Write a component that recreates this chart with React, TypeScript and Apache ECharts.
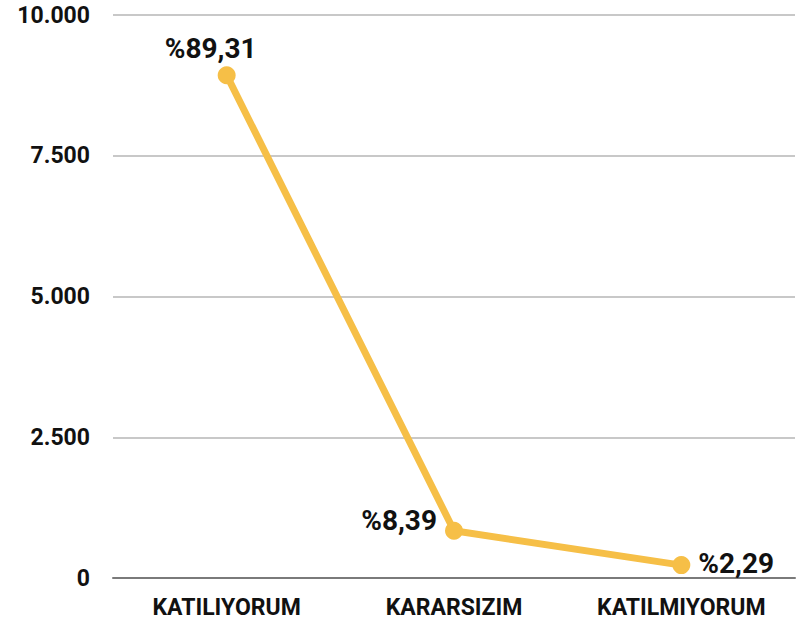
import React, { useEffect, useRef } from "react";
import * as echarts from "echarts";

const categories = ["KATILIYORUM", "KARARSIZIM", "KATILMIYORUM"];
const values = [8931, 839, 229];
const pctLabels = ["%89,31", "%8,39", "%2,29"];
const labelPositions = ["top", "left", "right"];
const labelOffsets = [[-16, 4], [0, -10], [0, -2]];

export default function App() {
  const ref = useRef<HTMLDivElement>(null);
  useEffect(() => {
    const chart = echarts.init(ref.current!, null, { renderer: "svg" });
    const font = "Roboto";
    chart.setOption({
      animation: false,
      grid: { left: 113, right: 7, top: 15, bottom: 51 },
      xAxis: {
        type: "category",
        data: categories,
        boundaryGap: true,
        axisTick: { show: false },
        axisLine: { lineStyle: { color: "#7a7a7a", width: 2 } },
        axisLabel: {
          interval: 0,
          hideOverlap: false,
          color: "#111",
          fontFamily: font,
          fontWeight: "bold",
          fontSize: 23,
          margin: 18,
        },
      },
      yAxis: {
        type: "value",
        min: 0,
        max: 10000,
        interval: 2500,
        axisLabel: {
          color: "#111",
          fontFamily: font,
          fontWeight: "bold",
          fontSize: 23,
          margin: 23,
          overflow: "none",
          formatter: (v: number) => v.toLocaleString("de-DE"),
        },
        splitLine: { lineStyle: { color: "#c8c8c8", width: 2 } },
      },
      series: [
        {
          type: "line",
          data: values.map((v, i) => ({
            value: v,
            label: {
              position: labelPositions[i],
              formatter: pctLabels[i],
              offset: labelOffsets[i],
            },
          })),
          symbol: "circle",
          symbolSize: 18,
          lineStyle: { color: "#F6BF47", width: 7 },
          itemStyle: { color: "#F6BF47" },
          label: {
            show: true,
            color: "#111",
            fontFamily: font,
            fontWeight: "bold",
            fontSize: 28,
            distance: 8,
          },
        },
      ],
    });
    return () => chart.dispose();
  }, []);
  return <div ref={ref} style={{ width: 802, height: 629, position: "absolute", left: 0, top: 0 }} />;
}
